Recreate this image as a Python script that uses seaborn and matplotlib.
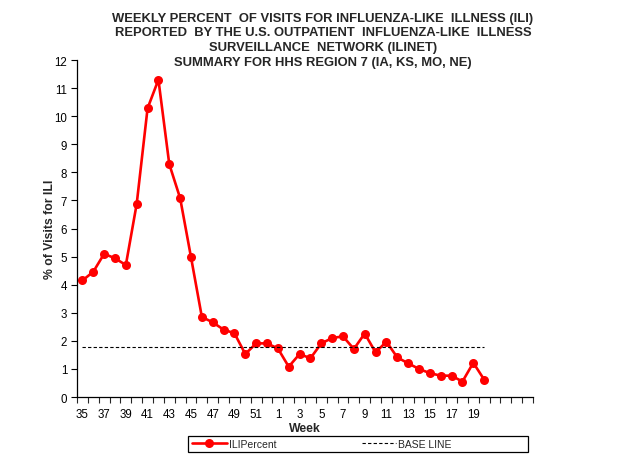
import numpy as np
import pandas as pd
import seaborn as sns
import matplotlib
matplotlib.use("Agg")
import matplotlib.pyplot as plt
from matplotlib.patches import Rectangle
from matplotlib.ticker import FixedLocator, NullFormatter

# weeks on the axis (last four categories are empty slots with no label)
weeks = [str(w) for w in range(35, 53)] + [str(w) for w in range(1, 21)]
empty_slots = ["", "", "", ""]
ili_percent = [4.15, 4.46, 5.10, 4.94, 4.70, 6.88, 10.28, 11.30, 8.29, 7.08,
               4.98, 2.85, 2.66, 2.40, 2.27, 1.53, 1.91, 1.91, 1.73, 1.08,
               1.53, 1.38, 1.91, 2.10, 2.16, 1.71, 2.26, 1.59, 1.97, 1.41,
               1.20, 1.00, 0.85, 0.76, 0.76, 0.55, 1.22, 0.62]
base_line = 1.77

sns.set_theme(style="white")
plt.rcParams["font.family"] = ["Liberation Sans", "DejaVu Sans"]

labels = weeks + empty_slots
df = pd.DataFrame({"pos": np.arange(len(weeks)), "ILIPercent": ili_percent,
                   "BASE LINE": [base_line] * len(weeks)})

fig = plt.figure(figsize=(6.27, 4.64), dpi=100)
ax = fig.add_axes([0.1228, 0.1422, 0.7273, 0.7263])

sns.lineplot(data=df, x="pos", y="ILIPercent", ax=ax, color="#ff0000",
             linewidth=1.9, marker="o", markersize=6.5, markeredgewidth=0,
             label="ILIPercent")
sns.lineplot(data=df, x="pos", y="BASE LINE", ax=ax, color="black",
             linewidth=0.8, linestyle=(0, (3, 2)), label="BASE LINE")

ax.set_xlim(-0.5, len(labels) - 0.5)
ax.set_ylim(0, 12)
ax.set_yticks(range(0, 13))
ax.tick_params(axis="y", labelsize=8.3, length=4, width=0.8, direction="out",
               left=True, pad=3, colors="black")

shown = [lab if i % 2 == 0 else "" for i, lab in enumerate(labels)]
ax.set_xticks(np.arange(len(labels)))
ax.set_xticklabels(shown, fontsize=8.3)
ax.tick_params(axis="x", which="major", length=0, pad=8, colors="black")
ax.xaxis.set_minor_locator(FixedLocator(np.arange(len(labels) + 1) - 0.5))
ax.xaxis.set_minor_formatter(NullFormatter())
ax.tick_params(axis="x", which="minor", length=4, width=0.8,
               direction="out", bottom=True)

for side in ["top", "right"]:
    ax.spines[side].set_visible(False)
for side in ["left", "bottom"]:
    ax.spines[side].set_color("black")
    ax.spines[side].set_linewidth(0.9)

ax.set_xlabel("Week", fontsize=8.8, fontweight="bold", labelpad=1)
ax.set_ylabel("% of Visits for ILI", fontsize=8.8, fontweight="bold",
              labelpad=-1)

fig.text(0.515, 0.973,
         "WEEKLY PERCENT  OF VISITS FOR INFLUENZA-LIKE  ILLNESS (ILI)\n"
         "REPORTED  BY THE U.S. OUTPATIENT  INFLUENZA-LIKE  ILLNESS\n"
         "SURVEILLANCE  NETWORK (ILINET)\n"
         "SUMMARY FOR HHS REGION 7 (IA, KS, MO, NE)",
         ha="center", va="top", fontsize=9.4, fontweight="bold",
         linespacing=1.3)

ax.get_legend().remove()
handles, leg_labels = ax.get_legend_handles_labels()
leg = fig.legend(handles, leg_labels, loc="center left", ncol=2,
                 bbox_to_anchor=(189 / 627, 1 - 445 / 464),
                 fontsize=7.5, frameon=False, borderpad=0,
                 handlelength=3.3, handletextpad=0.2, columnspacing=8.2,
                 borderaxespad=0.3)

# legend box spanning the width used in the reference
fig.patches.append(Rectangle((188 / 627, 1 - 453 / 464), 340 / 627, 16 / 464,
                             transform=fig.transFigure, fill=False,
                             edgecolor="black", linewidth=0.9))

fig.savefig("out.png", dpi=100)
